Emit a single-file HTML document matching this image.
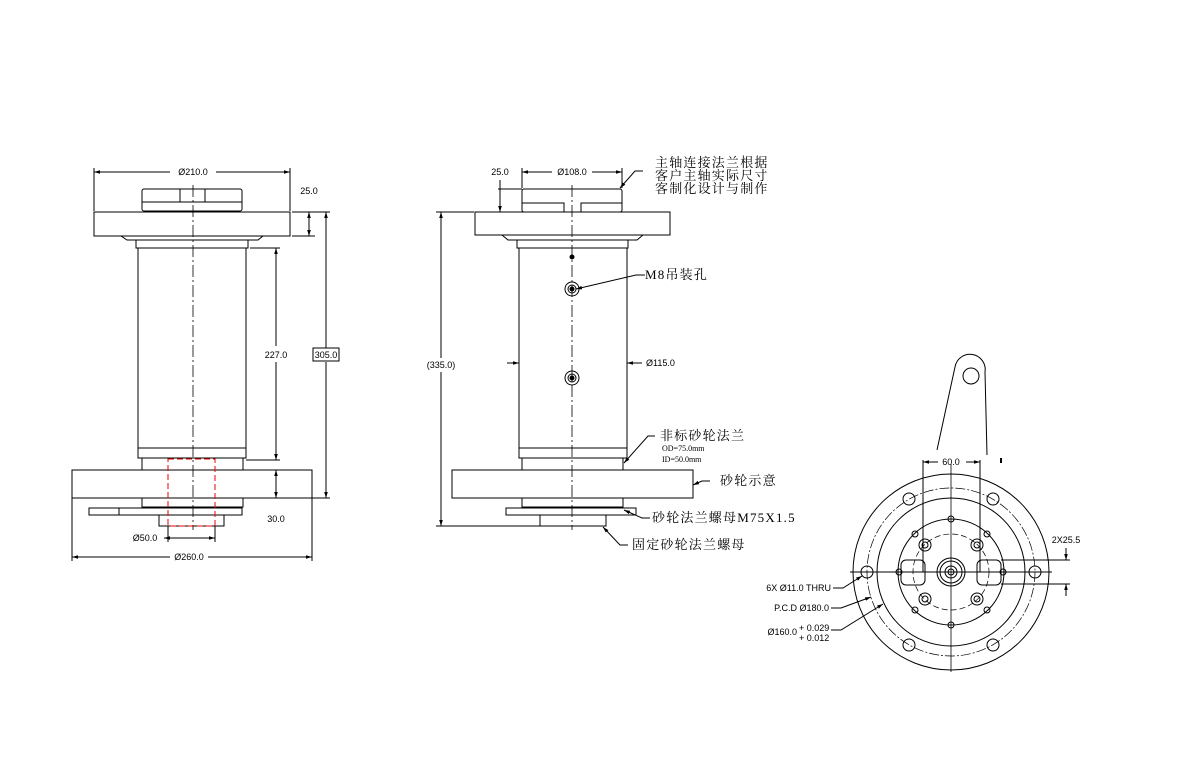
<!DOCTYPE html>
<html><head><meta charset="utf-8"><style>
html,body{margin:0;padding:0;background:#fff;}
svg{display:block;}
.t{font-family:"Liberation Sans",sans-serif;font-size:9px;fill:#000;}
.c{font-family:"Liberation Serif","Noto Serif CJK SC",serif;font-size:13px;fill:#000;letter-spacing:1.2px;}
.s{font-family:"Liberation Serif","Noto Serif CJK SC",serif;font-size:8px;fill:#000;}
</style></head><body>
<svg width="1194" height="758" viewBox="0 0 1194 758" xmlns="http://www.w3.org/2000/svg">
<defs>
<marker id="a" viewBox="0 0 10 10" refX="10" refY="5" markerWidth="6" markerHeight="6" orient="auto-start-reverse"><path d="M0,2 L10,5 L0,8z" fill="#000"/></marker>
</defs>
<g fill="none" stroke="#000" stroke-width="1">
<!-- LEFT VIEW -->
<rect x="142" y="189" width="100" height="22" rx="2"/>
<line x1="142" y1="202" x2="242" y2="202"/>
<line x1="180" y1="189" x2="180" y2="202"/><line x1="205" y1="189" x2="205" y2="202"/>
<rect x="94" y="212" width="196" height="24"/>
<path d="M121,236 L127,240 L258,240 L263,236"/>
<rect x="136" y="240" width="112" height="8"/>
<rect x="138" y="248" width="108" height="210"/>
<line x1="138" y1="448" x2="246" y2="448"/>
<rect x="142" y="458" width="101" height="12"/>
<rect x="72" y="470" width="240" height="28"/>
<rect x="142" y="498" width="101" height="9"/>
<rect x="89" y="508" width="153" height="7"/>
<line x1="119" y1="508" x2="119" y2="515"/>
<rect x="159" y="515" width="65" height="11"/>
<rect x="168" y="459" width="47" height="67" stroke="#e00" stroke-dasharray="6,3"/>
<line x1="193" y1="185" x2="193" y2="530" stroke-dasharray="12,3,2,3" stroke-width="0.8"/>
<!-- left dims -->
<line x1="94" y1="211" x2="94" y2="168"/><line x1="290" y1="211" x2="290" y2="168"/>
<line x1="94" y1="172" x2="170" y2="172" marker-start="url(#a)"/><line x1="216" y1="172" x2="290" y2="172" marker-end="url(#a)"/>
<line x1="292" y1="212" x2="330" y2="212"/><line x1="292" y1="236" x2="315" y2="236"/>
<line x1="309" y1="212" x2="309" y2="236" marker-start="url(#a)" marker-end="url(#a)"/>
<line x1="250" y1="248" x2="280" y2="248"/><line x1="246" y1="460" x2="280" y2="460"/>
<line x1="276" y1="248" x2="276" y2="346" marker-start="url(#a)"/><line x1="276" y1="362" x2="276" y2="460" marker-end="url(#a)"/>
<line x1="312" y1="498" x2="330" y2="498"/>
<line x1="326" y1="212" x2="326" y2="348" marker-start="url(#a)"/><line x1="326" y1="362" x2="326" y2="498" marker-end="url(#a)"/>
<line x1="276" y1="470" x2="276" y2="498" marker-start="url(#a)" marker-end="url(#a)"/>
<rect x="313" y="348" width="26" height="13"/>
<line x1="168" y1="526" x2="168" y2="542"/><line x1="215" y1="526" x2="215" y2="542"/>
<line x1="164" y1="538" x2="215" y2="538" marker-start="url(#a)" marker-end="url(#a)"/>
<line x1="72" y1="498" x2="72" y2="561"/><line x1="312" y1="498" x2="312" y2="561"/>
<line x1="72" y1="557" x2="170" y2="557" marker-start="url(#a)"/><line x1="208" y1="557" x2="312" y2="557" marker-end="url(#a)"/>

<!-- MIDDLE VIEW -->
<rect x="522" y="189" width="100" height="23" rx="2"/>
<path d="M522,203 L564,203 L564,212 M581,212 L581,203 L622,203"/>
<rect x="475" y="212" width="195" height="23"/>
<path d="M502,235 L508,240 L637,240 L643,235"/>
<rect x="517" y="240" width="111" height="8"/>
<rect x="519" y="248" width="108" height="210"/>
<line x1="519" y1="448" x2="627" y2="448"/>
<rect x="522" y="458" width="101" height="12"/>
<rect x="452" y="470" width="241" height="28"/>
<rect x="522" y="498" width="101" height="9"/>
<rect x="506" y="508" width="130" height="7"/>
<rect x="540" y="515" width="66" height="11"/>
<line x1="572" y1="185" x2="572" y2="530" stroke-dasharray="12,3,2,3" stroke-width="0.8"/>
<circle cx="572" cy="257" r="2" fill="#000"/>
<circle cx="572" cy="289" r="7"/><circle cx="572" cy="289" r="4"/><circle cx="572" cy="289" r="2" fill="#000"/>
<circle cx="572" cy="378" r="7"/><circle cx="572" cy="378" r="4"/><circle cx="572" cy="378" r="2" fill="#000"/>
<!-- middle dims -->
<line x1="522" y1="188" x2="522" y2="168"/><line x1="622" y1="188" x2="622" y2="168"/>
<line x1="522" y1="172" x2="552" y2="172" marker-start="url(#a)"/><line x1="592" y1="172" x2="622" y2="172" marker-end="url(#a)"/>
<line x1="498" y1="189" x2="522" y2="189"/>
<line x1="500" y1="180" x2="500" y2="212" marker-end="url(#a)"/>
<line x1="436" y1="212" x2="474" y2="212"/><line x1="436" y1="526" x2="540" y2="526"/>
<line x1="441" y1="212" x2="441" y2="358" marker-start="url(#a)"/><line x1="441" y1="372" x2="441" y2="526" marker-end="url(#a)"/>
<line x1="507" y1="363" x2="519" y2="363" marker-end="url(#a)"/>
<line x1="642" y1="363" x2="627" y2="363" marker-end="url(#a)"/>
<!-- leaders -->
<polyline points="643,171 635,171 620,188" marker-end="url(#a)"/>
<polyline points="645,275 636,275 576,289" marker-end="url(#a)"/>
<polyline points="655,436 648,436 624,463" marker-end="url(#a)"/>
<polyline points="710,481 702,481 693,485" marker-end="url(#a)"/>
<polyline points="650,518 642,518 624,510" marker-end="url(#a)"/>
<polyline points="628,545 620,545 603,527" marker-end="url(#a)"/>

<!-- RIGHT VIEW -->
<circle cx="951" cy="572" r="98"/>
<circle cx="951" cy="572" r="84" stroke-dasharray="10,2,2,2" stroke-width="0.7"/>
<circle cx="951" cy="572" r="74"/>
<circle cx="951" cy="572" r="53"/>
<circle cx="951" cy="572" r="38" stroke-dasharray="6,3" stroke-width="0.7"/>
<circle cx="951" cy="572" r="14"/><circle cx="951" cy="572" r="11"/><circle cx="951" cy="572" r="6"/><circle cx="951" cy="572" r="3"/>
<g>
<circle cx="925" cy="545" r="6"/><circle cx="925" cy="545" r="3"/>
<circle cx="977" cy="545" r="6"/><circle cx="977" cy="545" r="3"/>
<circle cx="925" cy="599" r="6"/><circle cx="925" cy="599" r="3"/>
<circle cx="977" cy="599" r="6"/><circle cx="977" cy="599" r="3"/>
<circle cx="951" cy="519" r="3"/><circle cx="951" cy="625" r="3"/>
<circle cx="899" cy="572" r="3"/><circle cx="1003" cy="572" r="3"/>
<circle cx="915" cy="534" r="3"/><circle cx="987" cy="534" r="3"/><circle cx="915" cy="610" r="3"/><circle cx="987" cy="610" r="3"/>
</g>
<rect x="901" y="560" width="24" height="25" rx="5"/>
<rect x="977" y="560" width="24" height="25" rx="5"/>
<circle cx="867" cy="572" r="6"/><circle cx="1035" cy="572" r="6"/>
<circle cx="909" cy="499" r="6"/><circle cx="993" cy="499" r="6"/>
<circle cx="909" cy="645" r="6"/><circle cx="993" cy="645" r="6"/>
<line x1="850" y1="572" x2="1052" y2="572"/>
<line x1="951" y1="464" x2="951" y2="672" stroke-width="0.8"/>
<path d="M937,450 L955,367 A15,15 0 0 1 985,372 L987,455"/>
<circle cx="971" cy="376" r="8"/>
<line x1="1001" y1="458" x2="1001" y2="463" stroke-width="2"/>
<line x1="923" y1="460" x2="923" y2="572"/><line x1="980" y1="460" x2="980" y2="572"/>
<line x1="923" y1="462" x2="938" y2="462" marker-start="url(#a)"/><line x1="966" y1="462" x2="980" y2="462" marker-end="url(#a)"/>
<line x1="1001" y1="560" x2="1070" y2="560"/><line x1="1001" y1="584" x2="1070" y2="584"/>
<line x1="1066" y1="548" x2="1066" y2="560" marker-end="url(#a)"/>
<line x1="1066" y1="596" x2="1066" y2="584" marker-end="url(#a)"/>
<polyline points="833,588 843,588 862,576" marker-end="url(#a)"/>
<polyline points="831,608 841,608 871,597" marker-end="url(#a)"/>
<polyline points="831,630 841,630 883,604" marker-end="url(#a)"/>
</g>
<!-- TEXT -->
<text class="t" x="193" y="175" text-anchor="middle">Ø210.0</text>
<text class="t" x="309" y="194" text-anchor="middle">25.0</text>
<text class="t" x="276" y="358" text-anchor="middle">227.0</text>
<text class="t" x="326" y="358" text-anchor="middle">305.0</text>
<text class="t" x="276" y="522" text-anchor="middle">30.0</text>
<text class="t" x="145" y="541" text-anchor="middle">Ø50.0</text>
<text class="t" x="189" y="560" text-anchor="middle">Ø260.0</text>
<text class="t" x="572" y="175" text-anchor="middle">Ø108.0</text>
<text class="t" x="500" y="175" text-anchor="middle">25.0</text>
<text class="t" x="441" y="368" text-anchor="middle">(335.0)</text>
<text class="t" x="646" y="366">Ø115.0</text>
<text class="c" x="655" y="167">主轴连接法兰根据</text>
<text class="c" x="655" y="180">客户主轴实际尺寸</text>
<text class="c" x="655" y="193">客制化设计与制作</text>
<text class="c" x="645" y="279">M8吊装孔</text>
<text class="c" x="660" y="440">非标砂轮法兰</text>
<text class="s" x="662" y="451">OD=75.0mm</text>
<text class="s" x="662" y="462">ID=50.0mm</text>
<text class="c" x="720" y="485">砂轮示意</text>
<text class="c" x="652" y="522">砂轮法兰螺母M75X1.5</text>
<text class="c" x="632" y="549">固定砂轮法兰螺母</text>
<text class="t" x="951" y="465" text-anchor="middle">60.0</text>
<text class="t" x="1066" y="543" text-anchor="middle">2X25.5</text>
<text class="t" x="831" y="591" text-anchor="end">6X Ø11.0 THRU</text>
<text class="t" x="829" y="611" text-anchor="end">P.C.D Ø180.0</text>
<text class="t" x="797" y="635" text-anchor="end">Ø160.0</text>
<text class="t" x="799" y="631">+ 0.029</text>
<text class="t" x="799" y="641">+ 0.012</text>
</svg>
</body></html>
